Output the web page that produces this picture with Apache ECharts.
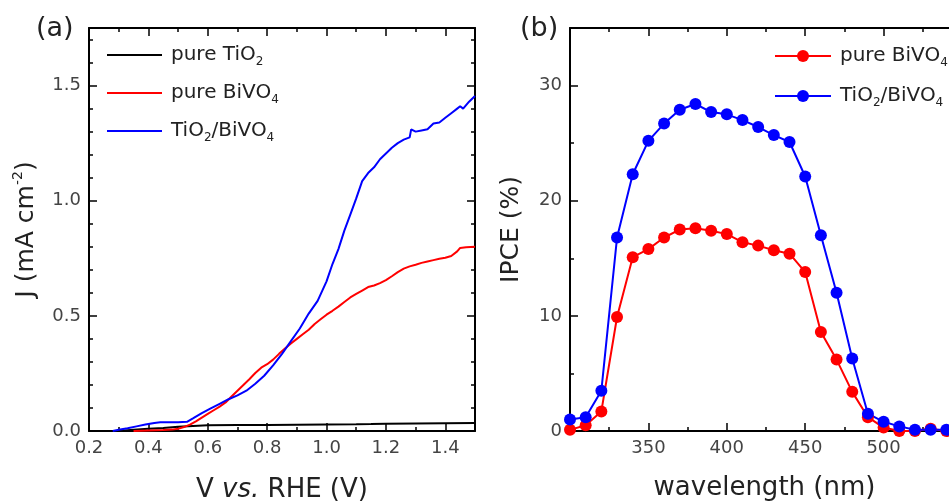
<!DOCTYPE html>
<html>
<head>
<meta charset="utf-8">
<script src="https://cdn.jsdelivr.net/npm/echarts@6/dist/echarts.min.js"></script>
<style>
  html, body { margin: 0; padding: 0; background: #fff; }
  #chart { width: 949px; height: 501px; }
</style>
</head>
<body>
<div id="chart"></div>
<script>
// (a) current density vs. potential, [V vs. RHE, J in mA cm-2]
const jvTiO2 = [
  [0.30, 0.0], [0.35, 0.005], [0.40, 0.01], [0.45, 0.013], [0.50, 0.018],
  [0.55, 0.022], [0.60, 0.025], [0.70, 0.026], [0.80, 0.026], [0.90, 0.027],
  [1.00, 0.028], [1.10, 0.029], [1.15, 0.03], [1.20, 0.032], [1.30, 0.033],
  [1.40, 0.034], [1.50, 0.035]
];
const jvBiVO4 = [
  [0.35, 0.0], [0.40, 0.002], [0.45, 0.004], [0.48, 0.006], [0.50, 0.01],
  [0.52, 0.017], [0.54, 0.028], [0.56, 0.042], [0.58, 0.058], [0.60, 0.074],
  [0.62, 0.09], [0.64, 0.106], [0.66, 0.124], [0.68, 0.15], [0.70, 0.175],
  [0.72, 0.2], [0.74, 0.225], [0.76, 0.252], [0.78, 0.275], [0.80, 0.29],
  [0.82, 0.31], [0.84, 0.335], [0.86, 0.358], [0.88, 0.38], [0.90, 0.40],
  [0.92, 0.42], [0.94, 0.44], [0.96, 0.465], [0.98, 0.485], [1.00, 0.505],
  [1.02, 0.522], [1.04, 0.54], [1.06, 0.56], [1.08, 0.58], [1.10, 0.595],
  [1.12, 0.61], [1.14, 0.625], [1.16, 0.632], [1.18, 0.642], [1.20, 0.655],
  [1.22, 0.672], [1.24, 0.69], [1.26, 0.705], [1.28, 0.715], [1.30, 0.722],
  [1.32, 0.73], [1.34, 0.736], [1.36, 0.742], [1.38, 0.748], [1.40, 0.752],
  [1.42, 0.76], [1.44, 0.78], [1.45, 0.795], [1.47, 0.798], [1.50, 0.80]
];
const jvTiO2BiVO4 = [
  [0.28, 0.0], [0.30, 0.005], [0.33, 0.012], [0.36, 0.02], [0.39, 0.028],
  [0.42, 0.035], [0.44, 0.038], [0.47, 0.038], [0.50, 0.038], [0.53, 0.04],
  [0.55, 0.055], [0.58, 0.078], [0.61, 0.098], [0.64, 0.118], [0.67, 0.138],
  [0.70, 0.155], [0.73, 0.175], [0.76, 0.205], [0.79, 0.24], [0.82, 0.285],
  [0.85, 0.335], [0.88, 0.39], [0.91, 0.445], [0.94, 0.51], [0.97, 0.565],
  [1.00, 0.65], [1.02, 0.725], [1.04, 0.79], [1.06, 0.87], [1.08, 0.94],
  [1.10, 1.01], [1.12, 1.085], [1.14, 1.12], [1.16, 1.145], [1.18, 1.18],
  [1.20, 1.205], [1.22, 1.23], [1.24, 1.25], [1.26, 1.265], [1.28, 1.275],
  [1.285, 1.31], [1.30, 1.30], [1.32, 1.305], [1.34, 1.31], [1.36, 1.335],
  [1.38, 1.34], [1.40, 1.36], [1.42, 1.38], [1.44, 1.40], [1.45, 1.41],
  [1.46, 1.40], [1.48, 1.43], [1.50, 1.455]
];

// (b) incident photon-to-current efficiency, %
const wavelengths = [300, 310, 320, 330, 340, 350, 360, 370, 380, 390, 400, 410, 420,
                     430, 440, 450, 460, 470, 480, 490, 500, 510, 520, 530, 540];
const ipceBiVO4 = [0.1, 0.5, 1.7, 9.9, 15.1, 15.8, 16.8, 17.5, 17.6, 17.4, 17.1, 16.4, 16.1,
                   15.7, 15.4, 13.8, 8.6, 6.2, 3.4, 1.2, 0.3, 0.0, 0.0, 0.2, 0.0];
const ipceTiO2BiVO4 = [1.0, 1.2, 3.5, 16.8, 22.3, 25.2, 26.7, 27.9, 28.4, 27.7, 27.5, 27.0, 26.4,
                       25.7, 25.1, 22.1, 17.0, 12.0, 6.3, 1.5, 0.8, 0.4, 0.1, 0.1, 0.1];

const FONT = 'DejaVu Sans, sans-serif';
const TICK_COLOR = '#444';
const TEXT_COLOR = '#222';

// legend labels with subscripts
const legendLabels = {
  'J pure TiO2': '{sp| }{n|pure TiO}{s|2}',
  'J pure BiVO4': '{sp| }{n|pure BiVO}{s|4}',
  'J TiO2/BiVO4': '{sp| }{n|TiO}{s|2}{n|/BiVO}{s|4}',
  'IPCE pure BiVO4': '{sp| }{n|pure BiVO}{s|4}',
  'IPCE TiO2/BiVO4': '{sp| }{n|TiO}{s|2}{n|/BiVO}{s|4}'
};
const legendRich = {
  sp: { width: 4, fontSize: 20, fontFamily: FONT },
  n: { fontSize: 20, lineHeight: 26, fontFamily: FONT, color: TEXT_COLOR },
  s: { fontSize: 12, verticalAlign: 'bottom', fontFamily: FONT, color: TEXT_COLOR }
};

// one boxed panel = 4 x-axes + 4 y-axes (major/minor ticks on each side)
function boxAxes(grid, range, major, minor, digits, name, nameOpts, hideMin) {
  const axes = [];
  const sides = range.dim === 'x' ? ['bottom', 'top'] : ['left', 'right'];
  sides.forEach((pos, si) => {
    [major, minor].forEach((iv, mi) => {
      const isLabelled = si === 0 && mi === 0;
      const ax = {
        type: 'value',
        gridIndex: grid,
        position: pos,
        min: range.min,
        max: range.max,
        interval: iv,
        splitLine: { show: false },
        axisLine: { show: mi === 0, onZero: false, lineStyle: { color: '#000', width: 2 } },
        axisTick: { show: true, inside: true, length: mi === 0 ? 8 : 4, lineStyle: { color: '#000', width: 1.5 } },
        axisLabel: { show: isLabelled }
      };
      if (isLabelled) {
        ax.axisLabel = {
          show: true,
          showMaxLabel: false,
          showMinLabel: !hideMin,
          formatter: v => Number(v).toFixed(digits),
          color: TICK_COLOR,
          fontSize: 18,
          fontFamily: FONT,
          margin: 8
        };
        Object.assign(ax, { name: name, nameLocation: 'middle' }, nameOpts);
      }
      axes.push(ax);
    });
  });
  return axes;
}

const xAxes = [].concat(
  boxAxes(0, { dim: 'x', min: 0.2, max: 1.5 }, 0.2, 0.1, 1,
    '{n|V }{i|vs.}{n| RHE (V)}',
    { nameGap: 46, nameTextStyle: { rich: {
      n: { fontSize: 26, fontFamily: FONT, color: TEXT_COLOR },
      i: { fontSize: 26, fontFamily: FONT, fontStyle: 'italic', color: TEXT_COLOR } } } }, false),
  boxAxes(1, { dim: 'x', min: 300, max: 550 }, 50, 25, 0,
    'wavelength (nm)',
    { nameGap: 44, nameTextStyle: { fontSize: 26, fontFamily: FONT, color: TEXT_COLOR, padding: [0, 3, 0, 0] } }, true)
);
const yAxes = [].concat(
  boxAxes(0, { dim: 'y', min: 0, max: 1.75 }, 0.5, 0.1, 1,
    '{n|J (mA cm}{p|-2}{n|)}',
    { nameGap: 48, nameTextStyle: { rich: {
      n: { fontSize: 25, lineHeight: 30, fontFamily: FONT, color: TEXT_COLOR },
      p: { fontSize: 14, verticalAlign: 'top', fontFamily: FONT, color: TEXT_COLOR } } } }, false),
  boxAxes(1, { dim: 'y', min: 0, max: 35 }, 10, 5, 0,
    'IPCE (%)',
    { nameGap: 46, nameTextStyle: { fontSize: 25, fontFamily: FONT, color: TEXT_COLOR } }, false)
);

function jvSeries(name, data, color) {
  return {
    name: name, type: 'line', xAxisIndex: 0, yAxisIndex: 0,
    data: data, symbol: 'none',
    lineStyle: { color: color, width: 2 }, itemStyle: { color: color }
  };
}
function ipceSeries(name, values, color) {
  return {
    name: name, type: 'line', xAxisIndex: 4, yAxisIndex: 4,
    data: wavelengths.map((w, i) => [w, values[i]]),
    symbol: 'circle', symbolSize: 12,
    lineStyle: { color: color, width: 2 }, itemStyle: { color: color }
  };
}

const option = {
  backgroundColor: '#fff',
  animation: false,
  grid: [
    { left: 89, top: 28, width: 386, height: 403, outerBoundsMode: 'none' },
    // panel (b) runs on past the right edge of the page
    { left: 570, top: 28, width: 392, height: 403, outerBoundsMode: 'none' }
  ],
  xAxis: xAxes,
  yAxis: yAxes,
  legend: [
    {
      orient: 'vertical', left: 102, top: 40, icon: 'rect', itemWidth: 55, itemHeight: 2, itemGap: 15,
      data: ['J pure TiO2', 'J pure BiVO4', 'J TiO2/BiVO4'],
      formatter: n => legendLabels[n],
      textStyle: { rich: legendRich }, selectedMode: false
    },
    {
      orient: 'vertical', left: 769, top: 41, itemWidth: 56, itemHeight: 15, itemGap: 17,
      data: ['IPCE pure BiVO4', 'IPCE TiO2/BiVO4'],
      formatter: n => legendLabels[n],
      textStyle: { rich: legendRich }, selectedMode: false
    }
  ],
  graphic: [
    { type: 'text', left: 36, top: 15, style: { text: '(a)', fontSize: 27, fontFamily: FONT, fill: TEXT_COLOR } },
    { type: 'text', left: 520, top: 15, style: { text: '(b)', fontSize: 27, fontFamily: FONT, fill: TEXT_COLOR } }
  ],
  series: [
    jvSeries('J pure TiO2', jvTiO2, '#000000'),
    jvSeries('J pure BiVO4', jvBiVO4, '#ff0000'),
    jvSeries('J TiO2/BiVO4', jvTiO2BiVO4, '#0000ff'),
    ipceSeries('IPCE pure BiVO4', ipceBiVO4, '#ff0000'),
    ipceSeries('IPCE TiO2/BiVO4', ipceTiO2BiVO4, '#0000ff')
  ]
};

const chart = echarts.init(document.getElementById('chart'));
chart.setOption(option);
</script>
</body>
</html>
